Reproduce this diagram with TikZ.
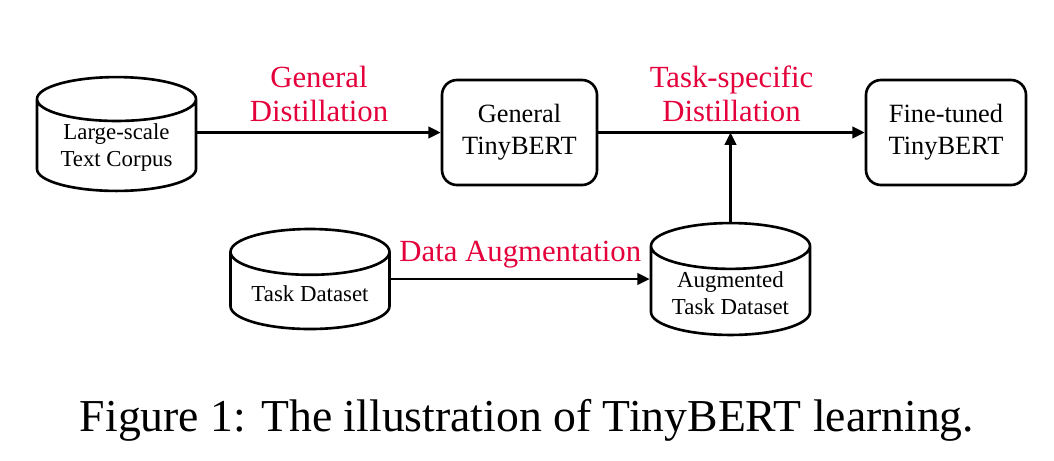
\documentclass[tikz,border=0pt]{standalone}
\usepackage{fontspec}
\setmainfont{Liberation Serif}
\usepackage{xcolor}
\usepackage{tikz}
\usetikzlibrary{shapes,arrows,arrows.meta,positioning}

\definecolor{distred}{RGB}{228,0,58}

\begin{document}
\begin{tikzpicture}[
  data/.style={cylinder, shape border rotate=90, aspect=0.38, draw, line width=1.5pt,
               minimum width=3.18cm, minimum height=2.0cm, inner sep=1pt,
               anchor=shape center, align=center,
               font=\fontsize{13}{15.4}\selectfont},
  model/.style={rectangle, rounded corners=0.3cm, draw, line width=1.5pt,
                minimum width=3.1cm, minimum height=2.1cm, align=center,
                font=\fontsize{15}{18}\selectfont},
  arr/.style={->, >={Triangle[length=7pt,width=6.5pt]}, line width=1.5pt},
  lbl/.style={font=\fontsize{17.5}{19.3}\selectfont, text=distred, align=center}
]
\useasboundingbox (0,0) rectangle (21.08,-9.2);

\node[data]  (corpus)    at ( 2.33,-2.68) {Large-scale\\Text Corpus};
\node[model] (general)   at (10.39,-2.65) {General\\TinyBERT};
\node[model, minimum width=3.2cm] (finetuned) at (18.92,-2.65) {Fine-tuned\\TinyBERT};
\node[data]  (taskdata)  at ( 6.20,-5.58) {Task Dataset};
\node[data]  (augdata)   at (14.61,-5.58) {Augmented\\Task Dataset};

\draw[arr] (corpus.east |- general.west) -- (general.west)
  node[above=2pt,lbl,midway]{General\\Distillation};
\draw[arr] (general) -- (finetuned) node[above=2pt,lbl,midway]{Task-specific\\Distillation};
\draw[arr] (taskdata.east |- taskdata.shape center) -- (augdata.west |- taskdata.shape center)
  node[above=2pt,lbl,midway]{Data Augmentation};
\draw[arr] (augdata.north) -- (augdata.north |- general.east);

\node[font=\fontsize{26}{30}\selectfont] (caption) at (10.54,-8.4)
  {Figure 1: The illustration of TinyBERT learning.};
\end{tikzpicture}
\end{document}
